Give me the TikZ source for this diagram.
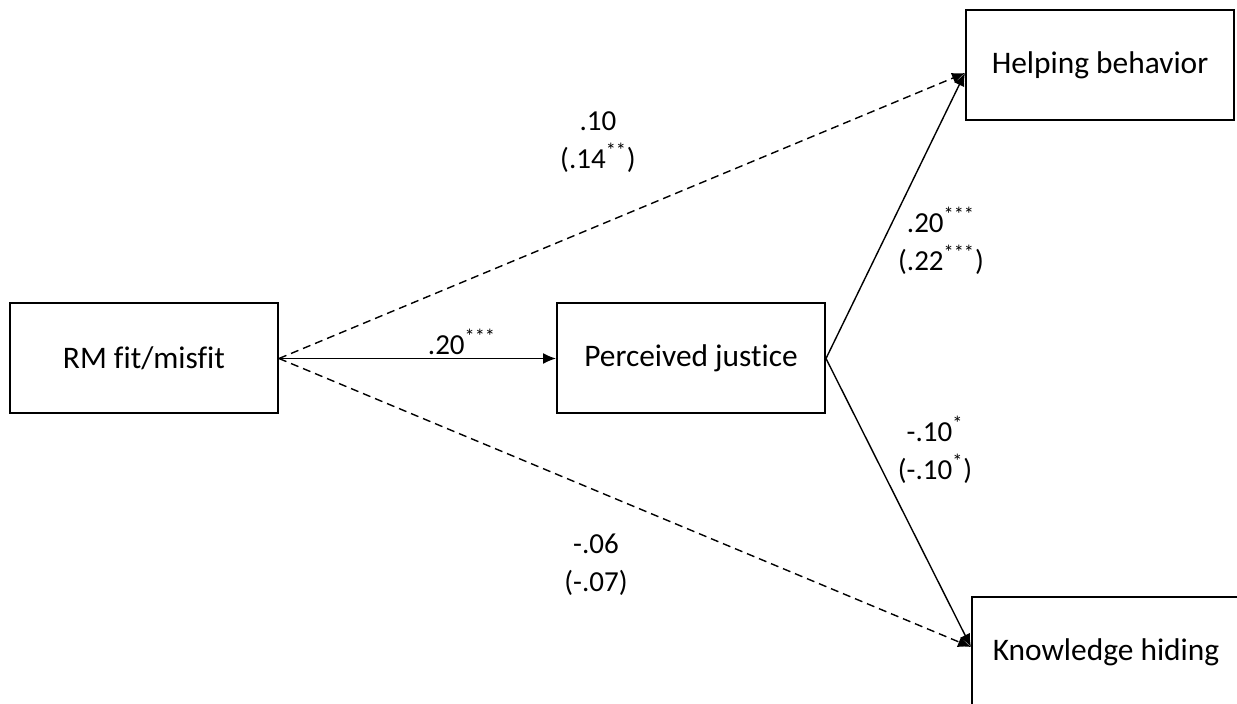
\documentclass[tikz,border=0pt]{standalone}
\usepackage{fontspec}
\setmainfont[Ligatures=NoCommon]{Carlito}
\usetikzlibrary{arrows.meta,positioning,calc}
\tikzset{box/.style={draw=black,line width=1pt,minimum width=134pt,minimum height=55pt,font=\fontsize{15.7}{18}\selectfont,inner sep=0pt}, coef/.style={align=center,font=\fontsize{14.5}{19}\selectfont,inner sep=0pt}, path/.style={-{Latex[length=6.5pt,width=5.5pt]},line width=0.7pt}, direct/.style={path,dash pattern=on 4pt off 2.5pt}}

\begin{document}
\begin{tikzpicture}[x=0.5pt,y=-0.5pt]
\useasboundingbox (0,0) rectangle (1237,704);
\clip (0,0) rectangle (1237,704);
\node[box] (a) at (144,358.5) {RM fit/misfit};
\node[box] (b) at (691,358.5) {Perceived justice};
\node[box] (c) at (1100,65) {Helping behavior};
\node[box] (d) at (1106,652) {Knowledge hiding};
\coordinate (ca) at ($(c.west)+(0,8)$);
\coordinate (da) at ($(d.west)+(0,-5)$);
\draw[path] (a.east)--(b.west);
\draw[path] (b.east)--(ca);\draw[path] (b.east)--(da);
\draw[direct] (a.east)--(ca);\draw[direct] (a.east)--(da);
\node[coef] (l1) at (598,142) {.10\\(.14\textsuperscript{**})};
\node[coef] (l2) at (462,342) {.20\textsuperscript{***}};
\node[coef] (l3) at (941,241) {.20\textsuperscript{***}\\(.22\textsuperscript{***})};
\node[coef] (l4) at (935,450) {-.10\textsuperscript{*}\\(-.10\textsuperscript{*})};
\node[coef] (l5) at (596,565) {-.06\\(-.07)};
\end{tikzpicture}
\end{document}
